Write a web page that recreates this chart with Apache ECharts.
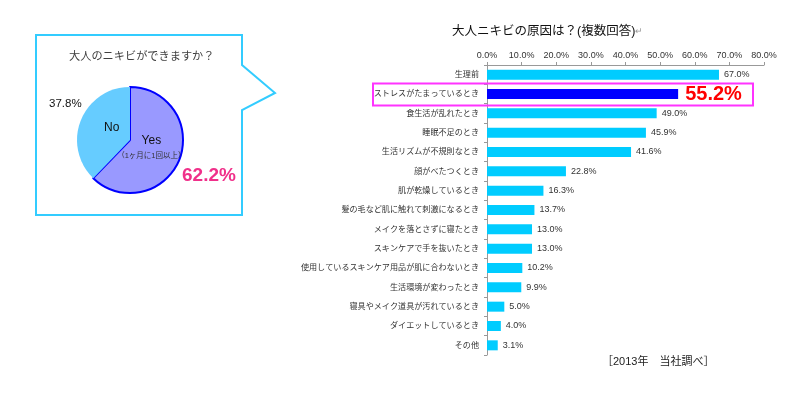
<!DOCTYPE html>
<html>
<head>
<meta charset="utf-8">
<script src="https://cdn.jsdelivr.net/npm/echarts@6/dist/echarts.min.js"></script>
<style>
  html, body { margin: 0; padding: 0; background: #fff; }
  #main { width: 800px; height: 399px; }
</style>
</head>
<body>
<div id="main"></div>
<script>
// 大人のニキビができますか？
const pieNames = ['Yes', 'No'];
const pieValues = [62.2, 37.8];

// 大人ニキビの原因は？(複数回答)
const causes = [
    '生理前',
    'ストレスがたまっているとき',
    '食生活が乱れたとき',
    '睡眠不足のとき',
    '生活リズムが不規則なとき',
    '顔がべたつくとき',
    '肌が乾燥しているとき',
    '髪の毛など肌に触れて刺激になるとき',
    'メイクを落とさずに寝たとき',
    'スキンケアで手を抜いたとき',
    '使用しているスキンケア用品が肌に合わないとき',
    '生活環境が変わったとき',
    '寝具やメイク道具が汚れているとき',
    'ダイエットしているとき',
    'その他'
];
const causeValues = [67.0, 55.2, 49.0, 45.9, 41.6, 22.8, 16.3, 13.7, 13.0, 13.0, 10.2, 9.9, 5.0, 4.0, 3.1];
const highlightIndex = 1;

const font = '"Liberation Sans", "Noto Sans CJK JP", sans-serif';

window.addEventListener('load', function () {
    let myChart = echarts.init(document.getElementById('main'), null, { renderer: 'canvas' });

    let barData = causeValues.map(function (v, i) {
        if (i === highlightIndex) {
            return {
                value: v,
                itemStyle: { color: '#0000FF' },
                label: {
                    fontSize: 20,
                    fontWeight: 'bold',
                    color: '#FF0000',
                    distance: 7
                }
            };
        }
        return v;
    });

    let option = {
        animation: false,
        textStyle: { fontFamily: font },
        title: [{
            text: '大人ニキビの原因は？(複数回答){r|↵}',
            left: 447,
            top: 20,
            textStyle: {
                fontSize: 12.5,
                fontWeight: 'normal',
                color: '#111',
                fontFamily: font,
                rich: { r: { color: '#999', fontSize: 9 } }
            }
        }, {
            text: '大人のニキビができますか？',
            left: 64,
            top: 46,
            textStyle: {
                fontSize: 11.2,
                fontWeight: 'normal',
                color: '#404040',
                fontFamily: font
            }
        }],
        grid: {
            left: 487,
            right: 36,
            top: 65,
            height: 290
        },
        xAxis: {
            type: 'value',
            position: 'top',
            min: 0,
            max: 80,
            interval: 10,
            axisLine: { show: true, lineStyle: { color: '#999' } },
            axisTick: { show: true, length: 3, lineStyle: { color: '#999' } },
            splitLine: { show: false },
            axisLabel: {
                formatter: function (v) { return v.toFixed(1) + '%'; },
                fontSize: 9,
                color: '#333',
                margin: 5,
                fontFamily: font
            }
        },
        yAxis: {
            type: 'category',
            inverse: true,
            data: causes,
            axisLine: { show: true, lineStyle: { color: '#999' } },
            axisTick: { show: true, length: 3, lineStyle: { color: '#999' } },
            axisLabel: {
                fontSize: 8.1,
                color: '#333',
                margin: 8,
                fontFamily: font
            }
        },
        series: [{
            type: 'bar',
            data: barData,
            barWidth: 10,
            itemStyle: { color: '#00CCFF' },
            label: {
                show: true,
                position: 'right',
                distance: 5,
                fontSize: 9,
                color: '#333',
                fontFamily: font,
                formatter: function (p) { return p.value.toFixed(1) + '%'; }
            }
        }, {
            type: 'pie',
            center: [130, 140],
            radius: 53,
            startAngle: 90,
            clockwise: true,
            data: [{
                name: pieNames[0],
                value: pieValues[0],
                itemStyle: { color: '#9999FF', borderColor: '#0000FF', borderWidth: 2 },
                label: {
                    formatter: '{a|Yes}\n{b|（1ヶ月に1回以上）}'
                }
            }, {
                name: pieNames[1],
                value: pieValues[1],
                itemStyle: { color: '#66CCFF', borderWidth: 0 },
                label: {
                    formatter: '{a|No}'
                }
            }],
            label: {
                show: true,
                position: 'inside',
                rich: {
                    a: { fontSize: 12, color: '#111', fontFamily: font, lineHeight: 18 },
                    b: { fontSize: 7.5, color: '#333', fontFamily: font, lineHeight: 12 }
                }
            },
            labelLayout: function (p) {
                if (p.dataIndex === 0) {
                    return { dx: -3, dy: -2 };
                }
                return { dx: 4.5, dy: -0.5 };
            },
            labelLine: { show: false },
            emphasis: { disabled: true }
        }]
    };
    myChart.setOption(option);

    // decorations placed after the axes exist
    let yRow = myChart.convertToPixel({ yAxisIndex: 0 }, causes[highlightIndex]);
    myChart.setOption({
        graphic: [{
            type: 'polygon',
            shape: {
                points: [[36, 35], [242, 35], [242, 65], [275, 93], [242, 110], [242, 215], [36, 215]]
            },
            style: { fill: 'none', stroke: '#33CCFF', lineWidth: 2 },
            z: 0
        }, {
            type: 'rect',
            shape: { x: 373, y: yRow - 10.5, width: 380, height: 22 },
            style: { fill: 'none', stroke: '#FF33FF', lineWidth: 2 },
            z: 10
        }, {
            type: 'text',
            left: 49,
            top: 98,
            style: {
                text: pieValues[1].toFixed(1) + '%',
                fontSize: 11.5,
                fill: '#111',
                fontFamily: font
            }
        }, {
            type: 'text',
            left: 182,
            top: 166,
            style: {
                text: pieValues[0].toFixed(1) + '%',
                fontSize: 19,
                fontWeight: 'bold',
                fill: '#F0308A',
                fontFamily: font
            }
        }, {
            type: 'text',
            left: 602,
            top: 356,
            style: {
                text: '［2013年　当社調べ］',
                fontSize: 11,
                fill: '#222',
                fontFamily: font
            }
        }]
    });
});
</script>
</body>
</html>
